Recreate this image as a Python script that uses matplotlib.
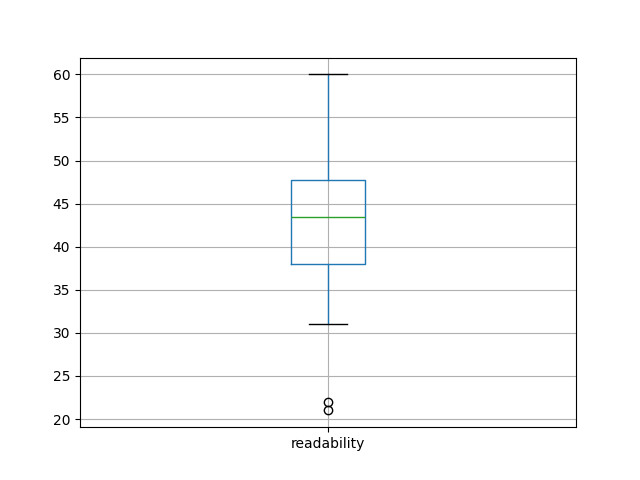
import matplotlib
matplotlib.use("Agg")
import matplotlib.pyplot as plt

# box statistics
label = "readability"
whisker_low = 31.0
q1 = 38.0
median = 43.5
q3 = 47.7
whisker_high = 60.0
outliers = [21.0, 22.0]

stats = [{
    "label": label,
    "whislo": whisker_low,
    "q1": q1,
    "med": median,
    "q3": q3,
    "whishi": whisker_high,
    "fliers": outliers,
}]

fig, ax = plt.subplots(figsize=(6.4, 4.8), dpi=100)
ax.bxp(
    stats,
    boxprops={"color": "#1f77b4"},
    whiskerprops={"color": "#1f77b4"},
    medianprops={"color": "#2ca02c"},
    capprops={"color": "black"},
    flierprops={"markeredgecolor": "black"},
)
ax.grid(True)
fig.savefig("out.png", dpi=100)
